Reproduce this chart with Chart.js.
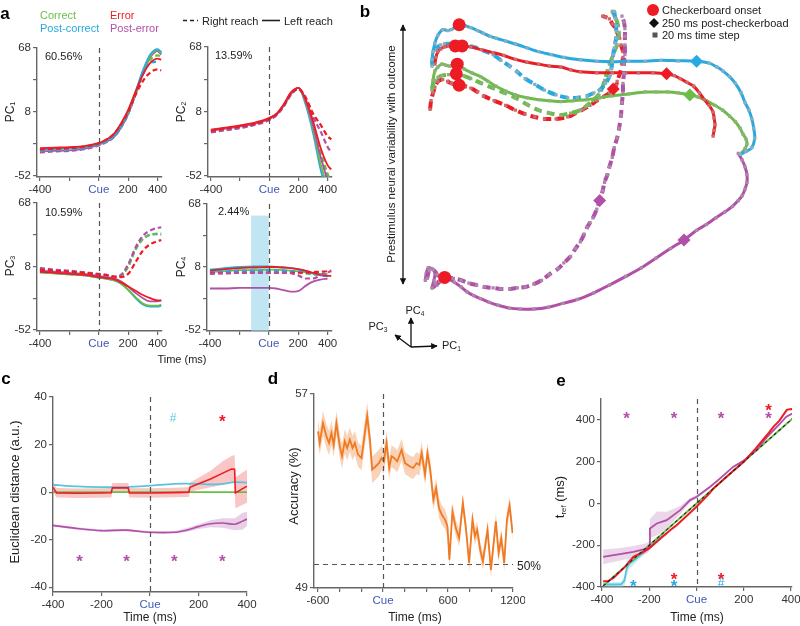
<!DOCTYPE html>
<html>
<head>
<meta charset="utf-8">
<script src="https://cdn.jsdelivr.net/npm/chart.js@4.4.0/dist/chart.umd.min.js"></script>
<style>
  body { margin: 0; background: #fff; font-family: "Liberation Sans", Arial, sans-serif; }
  #fig { position: relative; width: 800px; height: 626px; overflow: hidden; }
  .box { position: absolute; }
  .t { position: absolute; white-space: nowrap; color: #222; font-size: 11px; line-height: 1; }
  .c { transform: translate(-50%, -50%); }
  .l { transform: translate(0, -50%); }
  .r { transform: translate(-50%, -50%) rotate(-90deg); }
  .lbl { font-weight: bold; font-size: 17px; color: #000; }
  sub { font-size: 0.6em; vertical-align: -0.25em; }
</style>
</head>
<body>
<div id="fig">
  <div class="box" id="pc1"><canvas></canvas></div>
  <div class="box" id="pc2"><canvas></canvas></div>
  <div class="box" id="pc3"><canvas></canvas></div>
  <div class="box" id="pc4"><canvas></canvas></div>
  <div class="box" id="traj"><canvas></canvas></div>
  <div class="box" id="dist"><canvas></canvas></div>
  <div class="box" id="acc"><canvas></canvas></div>
  <div class="box" id="tref"><canvas></canvas></div>

  <svg width="800" height="626" style="position:absolute;left:0;top:0;pointer-events:none">
    <defs>
      <marker id="ah" viewBox="0 0 10 10" refX="9" refY="5" markerWidth="5" markerHeight="5" orient="auto-start-reverse">
        <path d="M0,0 L10,5 L0,10 z" fill="#111"/>
      </marker>
    </defs>
    <!-- a: reach legend -->
    <line x1="183" y1="20.5" x2="198" y2="20.5" stroke="#222" stroke-width="1.6" stroke-dasharray="4,3"/>
    <line x1="262" y1="20.5" x2="280" y2="20.5" stroke="#222" stroke-width="1.6"/>
    <!-- b: variability arrow -->
    <line x1="403" y1="25" x2="403" y2="284" stroke="#111" stroke-width="1.3" marker-start="url(#ah)" marker-end="url(#ah)"/>
    <!-- b: PC axes -->
    <line x1="411" y1="347" x2="437" y2="346" stroke="#111" stroke-width="1.3" marker-end="url(#ah)"/>
    <line x1="411" y1="347" x2="411" y2="318" stroke="#111" stroke-width="1.3" marker-end="url(#ah)"/>
    <line x1="411" y1="347" x2="395" y2="335" stroke="#111" stroke-width="1.3" marker-end="url(#ah)"/>
    <!-- b: legend icons -->
    <circle cx="653" cy="10" r="6" fill="#ed1c24"/>
    <polygon points="654,18 659,23 654,28 649,23" fill="#111"/>
    <rect x="652.5" y="32.5" width="5" height="5" fill="#555"/>
  </svg>
</div>

<script>
// ---------------- panel a : PC projections ----------------
const aTime = [-400, -300, -200, -100, 0, 50, 100, 150, 200, 250, 300, 350, 400, 425];
const aVariance = ['60.56%', '13.59%', '10.59%', '2.44%'];

const pc1CorrectL = [-27, -26.5, -26, -25, -22, -19, -15, -6, 7, 26, 45, 60, 66, 63];
const pc1CorrectR = [-28, -27.5, -27, -25.5, -22.5, -19.5, -15, -6, 7, 25, 44, 57, 61, 60];
const pc1PostCorL = [-27, -26.5, -26, -25, -22, -19, -15, -6, 8, 27, 47, 62, 67, 64];
const pc1PostCorR = [-28, -27.5, -27, -25.5, -22.5, -19.5, -15, -6, 7, 25, 43, 54, 55, null];
const pc1ErrorL = [-26, -25.5, -25, -24, -21, -18, -13, -3, 10, 27, 43, 54, 58, 57];
const pc1ErrorR = [-27, -26.5, -26, -24.5, -21.5, -18, -13, -4, 8, 24, 37, 45, 48, 47];
const pc1PostErrL = [-29, -28.5, -28, -26.5, -23, -20, -16, -7, 6, 25, 44, 59, 65, 64];
const pc1PostErrR = [-30, -29, -28.5, -27, -23.5, -20.5, -16, -7, 6, 25, 45, 60, 65, 62];

const pc2CorrectL = [-9.5, -7.5, -5.5, -3, 1.5, 5.5, 14, 25, 30, 16, -8, -40, -62, null];
const pc2CorrectR = [-11, -9, -7, -4, 0.5, 5, 13, 24, 29, 18, -3, -28, -50, -58];
const pc2PostCorL = [-9.5, -7.5, -5.5, -3, 1.5, 5.5, 14, 25, 30, 14, -12, -45, -70, null];
const pc2PostCorR = [-11, -9, -7, -4, 0.5, 5, 13, 24, 29, 17, -6, -32, -55, -62];
const pc2ErrorL = [-9, -7, -5, -2.5, 2, 6, 15, 26, 30, 19, -1, -25, -42, -46];
const pc2ErrorR = [-10, -8, -6, -3.5, 1, 5.5, 14, 25, 29, 21, 6, -4, -15, -18];
const pc2PostErrL = [-10, -8, -6, -3.5, 1, 5, 13.5, 24.5, 30, 17, -5, -33, -55, -60];
const pc2PostErrR = [-11.5, -9.5, -7.5, -4.5, 0, 4.5, 13, 24, 29, 20, 3, -10, -25, -30];

const pc3CorrectL = [2.5, 1.5, 0.5, -0.5, -2.5, -3.5, -5, -8, -14, -21, -27, -29, -29, -28];
const pc3CorrectR = [6, 4.5, 3.5, 2, 0.5, -0.5, -2, -1, 8, 24, 34, 38, 39, 39];
const pc3PostCorL = [2.5, 1.5, 0.5, -0.5, -2.5, -3.5, -5, -8, -14, -22, -28, -30, -30, -29];
const pc3PostCorR = [6, 4.5, 3.5, 2, 0.5, -0.5, -2, -1, 8, 24, 34, 38, 38.5, 38];
const pc3ErrorL = [3, 2, 1, 0, -2, -3, -4, -7, -11, -15, -19, -22, -24, -24];
const pc3ErrorR = [5, 4, 3, 2, 0.5, 0, -1.5, -2, 1, 12, 23, 29, 32, 33];
const pc3PostErrL = [4, 3, 2, 1, -1, -2, -3, -6, -11, -17, -22, -25, -25, -24];
const pc3PostErrR = [6.5, 5, 4, 2.5, 1, 0, -1.5, 0, 10, 26, 37, 42, 44.5, 45];

const pc4CorrectL = [3, 4, 5, 5, 5.5, 5.5, 5, 4.5, 4, 3, 2, 1.5, 1.5, null];
const pc4CorrectR = [2.5, 3, 3.5, 3.5, 3.5, 3.5, 3.5, 3, 3, 2, 1, 0.5, 0, null];
const pc4PostCorL = [5.5, 7, 8, 8.5, 8.5, 8, 7.5, 7, 6, 4, 2, 0, -1, null];
const pc4PostCorR = [3, 4, 4.5, 4.5, 5, 5, 4.5, 4, 3.5, 2.5, 1.5, 0.5, 0, null];
const pc4ErrorL = [4.5, 6, 7, 7.5, 8, 8, 7.5, 7, 6, 4.5, 2.5, 0.5, -0.5, -0.5];
const pc4ErrorR = [2, 2, 2.5, 2.5, 2.5, 2.5, 2.5, 2.5, 2.5, 2.5, 3, 3.5, 4, 4.5];
const pc4PostErrL = [-12.5, -12.5, -12, -12, -12, -12.5, -14, -15.5, -15, -10, -6, -4, -3, null];
const pc4PostErrR = [1.5, 2, 2.5, 2.5, 2.5, 2.5, 2.5, 2, 0, -3, -3, 0, 3, 4];
const pc4Window = [-120, 0, 57]; // from, to (ms), top (a.u.)

// ---------------- panel b : trajectories ----------------
const bPostCorL = [[427,62],[427,55],[428,47],[430,38],[433,30],[438,24],[443,25],[447,24],[452,20],[455,19],[461,20],[467,22],[474,25],[480,28],[487,31],[493,33],[503,36],[513,39],[525,43],[537,47],[550,50],[563,53],[580,55.5],[597,57],[613,57.5],[630,57],[647,57],[663,56],[681,56.5],[700,57],[713,59],[721,63],[727,67],[734,73],[740,80],[746,90],[750,100],[754,108],[757,117],[759,127],[760,137],[757,147],[751,151],[745,154]];
const bPostCorR = [[427,60],[430,45],[436,40],[440,39],[447,39],[453,41],[461,41],[470,42],[480,46],[490,50],[498,56],[507,62],[515,68],[523,75],[533,81],[543,87],[555,92],[567,95],[577,95],[587,93],[594,90],[600,87],[606,80],[610,73],[612,65],[613,58],[614,50],[615,43],[616,38],[617,33],[617,26],[617,20],[616,12],[615,5]];
const bErrorL = [[430,60],[431,53],[433,47],[436,44],[440,42],[444,41],[447,40],[451,41],[458,41],[467,42],[478,45],[490,48],[501,51],[513,55],[525,58],[537,60],[548,62],[560,63],[570,66],[580,68],[597,69],[613,69],[627,69],[640,69],[655,69],[669,70],[677,72],[683,75],[690,79],[697,83],[703,90],[708,97],[713,103],[717,110],[718,116],[719,123],[718,129],[717,135]];
const bErrorR = [[425,107],[426,98],[428,90],[430,84],[433,78],[438,76],[443,78],[447,80],[455,82],[461,83],[467,85],[474,89],[480,93],[491,98],[503,103],[513,108],[523,112],[533,115],[543,117],[555,117],[567,115],[575,111],[583,107],[590,103],[597,98],[604,94],[610,90],[614,86],[617,82],[618,78],[621,69],[623,60],[624,53],[624,47],[622,40],[620,32],[618,27],[617,23],[613,18],[610,13],[606,11],[603,10]];
const bCorrectL = [[427,87],[428,77],[430,67],[433,63],[437,60],[441,61],[445,62],[453,60],[460,65],[468,69],[477,73],[485,78],[493,83],[503,88],[513,92],[525,95],[537,97],[548,98],[560,99],[573,98],[587,97],[600,95],[613,93],[630,91],[647,89],[658,89],[670,89],[681,90],[693,92],[701,94],[710,98],[719,103],[727,108],[734,114],[740,120],[745,127],[748,133],[751,138],[752,143],[750,148],[747,152]];
const bCorrectR = [[427,85],[428,81],[430,77],[433,74],[437,72],[444,71],[452,70],[459,72],[467,75],[478,80],[490,85],[502,90],[513,95],[525,102],[537,108],[548,111],[560,113],[570,111],[580,108],[587,103],[593,98],[598,93],[602,87],[605,77],[608,67],[610,60],[613,53],[615,47],[618,40],[619,33],[620,27],[619,20],[617,13],[615,9],[613,5]];
const bPostErrL = [[420,285],[421,278],[423,272],[427,273],[430,277],[429,285],[427,293],[432,290],[436,286],[440,282],[450,287],[457,292],[463,297],[470,301],[477,304],[486,308],[495,311],[507,314],[518,315],[532,315],[547,313],[562,309],[577,305],[594,298],[610,290],[627,281],[643,272],[658,262],[673,252],[687,243],[700,233],[710,227],[720,220],[729,214],[737,208],[743,202],[747,197],[750,190],[752,183],[752,175],[750,167],[747,160],[743,153]];
const bPostErrR = [[422,283],[424,275],[428,274],[432,279],[430,288],[435,286],[440,282],[449,283],[457,285],[465,288],[473,290],[481,292],[490,293],[498,294],[507,294],[515,293],[523,292],[532,289],[540,285],[548,279],[557,273],[563,267],[570,260],[575,252],[580,245],[584,237],[587,230],[590,225],[593,220],[597,211],[600,202],[603,192],[605,183],[608,175],[610,167],[613,157],[615,147],[618,137],[620,127],[622,113],[623,100],[624,90],[624,80],[625,70],[625,60],[626,50],[626,40],[626,31],[626,23],[625,16],[623,10]];
const bOnset = [[455,19],[451,41],[458,41],[453,60],[452,70],[455,82],[440,282]];
const bDiamondBlue = [[700,57]];
const bDiamondRed = [[669,70],[614,86]];
const bDiamondGreen = [[693,92]];
const bDiamondMagenta = [[600,202],[687,243]];

// ---------------- panel c : euclidean distance ----------------
const cBlueX = [-400, -300, -200, -100, 0, 100, 200, 250, 300, 350, 400];
const cBlue = [3.1, 2.4, 2.1, 2.1, 2.7, 3.5, 3.5, 3.2, 3.5, 4.2, 4];
const cGreenX = [-400, 400];
const cGreen = [0, 0];
const cRedX = [-400, -385, -300, -200, -160, -155, -90, -85, 0, 100, 160, 165, 200, 250, 300, 336, 349, 352, 400];
const cRed = [2, -0.3, -0.5, -0.4, -0.3, 1.8, 1.8, -0.3, -0.4, -0.2, 0, 2, 3.5, 5.5, 8, 9.7, 9.6, -0.3, 2.5];
const cRedErr = [2, 2, 2, 2, 2, 2, 2, 2, 2, 2, 2, 2, 2.5, 3.5, 5, 5.5, 6, 6.5, 7];
const cMagentaX = [-400, -300, -200, -100, 0, 100, 150, 200, 250, 300, 350, 380, 400];
const cMagenta = [-14, -15.3, -16.2, -16, -16.9, -16.9, -16, -14.5, -13.3, -13, -13.5, -12.3, -11.3];
const cMagentaErr = [0.5, 0.5, 0.5, 0.5, 0.5, 0.5, 0.8, 1, 1.5, 2, 2.5, 3.5, 3];
const cStarLowX = [-290, -97, 100, 298];
const cStarLowY = -28;
const cHashX = [95];
const cRedStarX = [298];
const cTopY = 31;

// ---------------- panel d : decoding accuracy ----------------
const accX = [-600,-584,-554,-522,-498,-476,-455,-430,-399,-378,-353,-331,-306,-281,-260,-230,-198,-168,-146,-121,-100,-69,-38,-13,8,33,57,79,103,131,172,203,249,279,310,335,357,388,410,434,465,490,517,543,573,595,613,641,672,703,737,767,795,826,848,869,897,922,965,996,1042,1067,1092,1119,1144,1169,1196];
const accY = [55.46,54.98,55.8,55.25,54.98,55.39,54.9,55.8,54.84,54.43,55.05,54.77,55.12,54.77,54.98,54.5,54.36,55.39,56.1,55.12,53.88,54.01,54.15,54.36,54.22,54.98,53.95,54.43,54.36,54.22,54.7,54.15,54.01,53.95,54.15,54.08,54.57,53.67,54.57,53.95,52.64,53.12,52.3,52.02,51.82,51.54,50.17,52.16,51.47,51.06,52.51,51.4,50.03,51.82,51.13,51.4,50.58,50.1,51.4,49.75,51.75,50.44,51.06,50.03,51.82,52.4,51.27];
const accSem = [0.5,0.5,0.5,0.5,0.5,0.5,0.5,0.5,0.5,0.5,0.5,0.5,0.5,0.5,0.5,0.5,0.5,0.55,0.55,0.55,0.55,0.55,0.55,0.5,0.5,0.5,0.45,0.45,0.45,0.45,0.45,0.45,0.45,0.45,0.45,0.45,0.45,0.4,0.4,0.4,0.4,0.4,0.4,0.4,0.4,0.4,0.35,0.35,0.35,0.35,0.35,0.35,0.35,0.35,0.35,0.35,0.35,0.35,0.35,0.35,0.35,0.35,0.35,0.35,0.35,0.35,0.35];
const accChance = 50;

// ---------------- panel e : t_ref ----------------
const eDiagX = [-395, 408];
const eDiag = [-395, 408];
const eRedX = [-395,-375,-350,-300,-267,-230,-200,-150,-100,-84,-50,0,50,72,100,150,200,250,300,326,350,382,400,408];
const eRed = [-373,-373,-355,-300,-256,-235,-215,-165,-118,-104,-68,-16,42,72,100,150,200,262,330,368,395,448,452,450];
const eMagentaX = [-395,-324,-267,-211,-200,-197,-168,-126,-69,-27,1,58,100,156,200,250,300,350,380,408];
const eMagenta = [-256,-243,-232,-216,-205,-120,-96,-80,-32,16,32,80,120,176,205,252,320,378,415,432];
const eMagentaErr = [35,30,28,25,25,45,58,40,20,10,8,5,5,5,5,5,5,5,5,5];
const eCyanX = [-395,-320,-305,-295,-285,-250,-200,-150,-126];
const eCyan = [-388,-388,-370,-310,-290,-260,-210,-162,-144];
const eCyanErr = [10,12,25,40,25,15,12,10,8];
const eMagStarX = [-296, -95, 104, 305];
const eMagStarY = 420;
const eRedStarTop = [[305, 461]];
const eRedStarLow = [-95, 104];
const eRedStarLowY = -349;
const eCyanStarLow = [-267, -95];
const eCyanHashX = [104];
const eCyanLowY = -384;

// ---------------- styling ----------------
const GREEN = '#6cbd45', BLUE = '#27aae1', RED = '#ed1c24', MAGENTA = '#b24fa8';
const LBLUE = '#5cc4da', ORANGE = '#f07a22', CUE = '#4058b8';
const AX = '#666', TXT = '#333';
const FONT = '"Liberation Sans", Arial, sans-serif';

Chart.defaults.font.family = FONT;
Chart.defaults.font.size = 11;
Chart.defaults.color = TXT;

const zip = (xs, ys) => xs.map((x, i) => ({ x, y: ys[i] }));
const pairs = arr => arr.map(p => ({ x: p[0], y: p[1] }));

// draws cue lines, shaded windows and significance marks through the chart scales
const deco = {
  id: 'deco',
  beforeDatasetsDraw(chart, args, o) {
    const { ctx, chartArea: a, scales: { x, y } } = chart;
    (o.boxes || []).forEach(b => {
      const x0 = x.getPixelForValue(b[0]), x1 = x.getPixelForValue(b[1]);
      const y0 = y.getPixelForValue(b[2]);
      ctx.save();
      ctx.fillStyle = 'rgba(150,212,235,0.6)';
      ctx.fillRect(x0, y0, x1 - x0, a.bottom - y0);
      ctx.restore();
    });
  },
  afterDatasetsDraw(chart, args, o) {
    const { ctx, chartArea: a, scales: { x, y } } = chart;
    ctx.save();
    ctx.strokeStyle = '#555';
    ctx.lineWidth = 1.2;
    ctx.setLineDash([5, 4]);
    (o.vlines || []).forEach(v => {
      const px = Math.round(x.getPixelForValue(v)) + 0.5;
      ctx.beginPath(); ctx.moveTo(px, a.top); ctx.lineTo(px, a.bottom); ctx.stroke();
    });
    (o.hlines || []).forEach(v => {
      const py = Math.round(y.getPixelForValue(v)) + 0.5;
      ctx.beginPath(); ctx.moveTo(a.left, py); ctx.lineTo(a.right, py); ctx.stroke();
    });
    ctx.setLineDash([]);
    ctx.textAlign = 'center';
    ctx.textBaseline = 'middle';
    (o.marks || []).forEach(m => {
      ctx.fillStyle = m.color;
      ctx.font = (m.text === '*' ? 'bold 17px ' : '12px ') + FONT;
      const dy = m.text === '*' ? 4 : 0;
      m.pts.forEach(p => ctx.fillText(m.text, x.getPixelForValue(p[0]), y.getPixelForValue(p[1]) + dy));
    });
    ctx.restore();
  }
};
Chart.register(deco);

function zeroPad(s) { s.paddingLeft = s.paddingRight = s.paddingTop = s.paddingBottom = 0; }

function axis(horizontal, size, min, max, ticks, labels) {
  return {
    type: 'linear', min, max,
    afterBuildTicks: s => { s.ticks = ticks.map(v => ({ value: v })); },
    afterFit: s => { if (horizontal) s.height = size; else s.width = size; zeroPad(s); },
    ticks: {
      autoSkip: false, maxRotation: 0, padding: 2,
      callback: (v, i) => labels[i],
      color: c => (labels[c.index] === 'Cue' ? CUE : TXT),
      font: { size: 11.5 },
    },
    grid: { drawOnChartArea: false, tickLength: 4, color: AX, lineWidth: 1.2 },
    border: { color: AX, width: 1.4 },
  };
}

function panel(id, area, cfg) {
  const yW = cfg.yW || 0, xH = cfg.xH || 0, p = cfg.pad || 0;
  const box = document.getElementById(id);
  Object.assign(box.style, {
    left: (area[0] - yW - p) + 'px', top: (area[1] - p) + 'px',
    width: (area[2] - area[0] + yW + 2 * p) + 'px',
    height: (area[3] - area[1] + xH + 2 * p) + 'px',
  });
  return new Chart(box.querySelector('canvas'), {
    type: cfg.type || 'line',
    data: { datasets: cfg.datasets },
    options: {
      responsive: true, maintainAspectRatio: false, animation: false,
      layout: { padding: p },
      scales: cfg.scales,
      plugins: { legend: { display: false }, tooltip: { enabled: false }, deco: cfg.deco || {} },
      elements: { point: { radius: 0 } },
    },
  });
}

function line(data, color, opt) {
  return Object.assign({ data, borderColor: color, backgroundColor: color, borderWidth: 1.8, pointRadius: 0, fill: false, tension: 0 }, opt || {});
}
function band(xs, ys, err, color) {
  return [
    line(zip(xs, ys.map((v, i) => v + err[i])), 'transparent', { backgroundColor: color, borderWidth: 0, fill: '+1' }),
    line(zip(xs, ys.map((v, i) => v - err[i])), 'transparent', { borderWidth: 0 }),
  ];
}

// ---------------- panel a ----------------
const aXTicks = [-400, -200, 0, 200, 400];
const aXLabels = ['-400', '', 'Cue', '200', '400'];
const aYTicks = [-52, -22, 8, 38, 68];
const aYLabels = ['-52', '', '8', '', '68'];

function pcSets(rows) {
  return rows.map(([ys, c, dashed]) => line(zip(aTime, ys), c, {
    borderDash: dashed ? [5, 3] : [], borderWidth: dashed ? 2.2 : 1.8, cubicInterpolationMode: 'monotone'
  }));
}
function pcPanel(id, area, rows, extra) {
  return panel(id, area, {
    yW: 24, xH: 18, pad: 8,
    scales: {
      x: axis(true, 18, -420, 430, aXTicks, aXLabels),
      y: axis(false, 24, -53, 68, aYTicks, aYLabels),
    },
    datasets: pcSets(rows),
    deco: Object.assign({ vlines: [0] }, extra || {}),
  });
}

pcPanel('pc1', [37, 48, 162, 177], [
  [pc1ErrorL, RED], [pc1ErrorR, RED, 1], [pc1PostCorL, BLUE], [pc1PostCorR, BLUE, 1],
  [pc1CorrectL, GREEN], [pc1CorrectR, GREEN, 1], [pc1PostErrL, MAGENTA], [pc1PostErrR, MAGENTA, 1]]);
pcPanel('pc2', [208, 47, 332, 177], [
  [pc2ErrorL, RED], [pc2ErrorR, RED, 1], [pc2PostErrL, MAGENTA], [pc2PostErrR, MAGENTA, 1],
  [pc2CorrectL, GREEN], [pc2CorrectR, GREEN, 1], [pc2PostCorL, BLUE], [pc2PostCorR, BLUE, 1]]);
pcPanel('pc3', [37, 203, 162, 331], [
  [pc3ErrorL, RED], [pc3ErrorR, RED, 1], [pc3PostErrL, MAGENTA], [pc3PostErrR, MAGENTA, 1],
  [pc3CorrectL, GREEN], [pc3CorrectR, GREEN, 1], [pc3PostCorL, BLUE], [pc3PostCorR, BLUE, 1]]);
pcPanel('pc4', [207, 204, 332, 331], [
  [pc4PostErrL, MAGENTA], [pc4PostErrR, MAGENTA, 1], [pc4ErrorL, RED], [pc4ErrorR, RED, 1],
  [pc4PostCorL, BLUE], [pc4PostCorR, BLUE, 1], [pc4CorrectL, GREEN], [pc4CorrectR, GREEN, 1]],
  { boxes: [pc4Window] });

// ---------------- panel b ----------------
function traj(arr, color, mark, dashed) {
  return {
    data: pairs(arr), showLine: true, borderColor: color, borderWidth: dashed ? 4 : 3,
    borderDash: dashed ? [8, 5] : [], tension: 0.3,
    pointStyle: 'rect', pointRadius: 2.3, pointBackgroundColor: mark, pointBorderColor: mark, pointBorderWidth: 0,
  };
}
function marker(arr, style, color, r) {
  return { data: pairs(arr), showLine: false, pointStyle: style, pointRadius: r, pointBackgroundColor: color, pointBorderColor: color, pointBorderWidth: 0 };
}
panel('traj', [380, 0, 800, 330], {
  type: 'scatter',
  scales: {
    x: { type: 'linear', min: 380, max: 800, display: false },
    y: { type: 'linear', min: 0, max: 330, reverse: true, display: false },
  },
  datasets: [
    marker(bOnset, 'circle', RED, 6.5),
    marker(bDiamondBlue, 'rectRot', BLUE, 6.5),
    marker(bDiamondRed, 'rectRot', RED, 6.5),
    marker(bDiamondGreen, 'rectRot', GREEN, 6.5),
    marker(bDiamondMagenta, 'rectRot', MAGENTA, 6.5),
    traj(bPostCorL, BLUE, '#8aaebd'),
    traj(bPostErrR, MAGENTA, '#aa88a8', true),
    traj(bErrorL, RED, '#c86c70'),
    traj(bCorrectL, GREEN, '#8fae82'),
    traj(bPostErrL, MAGENTA, '#aa88a8'),
    traj(bPostCorR, BLUE, '#8aaebd', true),
    traj(bCorrectR, GREEN, '#8fae82', true),
    traj(bErrorR, RED, '#c86c70', true),
  ],
});

// ---------------- panel c ----------------
panel('dist', [53, 397, 247, 592], {
  yW: 30, xH: 20, pad: 12,
  scales: {
    x: axis(true, 20, -400, 400, [-400, -200, 0, 200, 400], ['-400', '-200', 'Cue', '200', '400']),
    y: axis(false, 30, -42, 40, [-40, -20, 0, 20, 40], ['-40', '-20', '0', '20', '40']),
  },
  datasets: [
    line(zip(cRedX, cRed), RED, { borderWidth: 1.6 }),
    line(zip(cBlueX, cBlue), LBLUE, { borderWidth: 1.8, tension: 0.3 }),
    line(zip(cGreenX, cGreen), GREEN, { borderWidth: 1.6 }),
    line(zip(cMagentaX, cMagenta), MAGENTA, { borderWidth: 1.6, tension: 0.3 }),
    ...band(cRedX, cRed, cRedErr, 'rgba(244,150,150,0.55)'),
    ...band(cMagentaX, cMagenta, cMagentaErr, 'rgba(190,120,185,0.35)'),
  ],
  deco: {
    vlines: [0],
    marks: [
      { text: '*', color: MAGENTA, pts: cStarLowX.map(v => [v, cStarLowY]) },
      { text: '#', color: LBLUE, pts: cHashX.map(v => [v, cTopY]) },
      { text: '*', color: RED, pts: cRedStarX.map(v => [v, cTopY]) },
    ],
  },
});

// ---------------- panel d ----------------
panel('acc', [314, 394, 513, 588], {
  yW: 30, xH: 20, pad: 12,
  scales: {
    x: axis(true, 20, -637, 1200, [-600, -400, -200, 0, 200, 400, 600, 800, 1000, 1200],
      ['-600', '', '', 'Cue', '', '', '600', '', '', '1200']),
    y: axis(false, 30, 49, 57, [49, 57], ['49', '57']),
  },
  datasets: [
    line(zip(accX, accY), ORANGE, { borderWidth: 1.8 }),
    ...band(accX, accY, accSem, 'rgba(246,180,135,0.6)'),
  ],
  deco: { vlines: [0], hlines: [accChance] },
});

// ---------------- panel e ----------------
panel('tref', [601, 399, 792, 587], {
  yW: 30, xH: 20, pad: 12,
  scales: {
    x: axis(true, 20, -404, 404, [-400, -200, 0, 200, 400], ['-400', '-200', 'Cue', '200', '400']),
    y: axis(false, 30, -400, 500, [-400, -200, 0, 200, 400], ['-400', '-200', '0', '200', '400']),
  },
  datasets: [
    line(zip(eDiagX, eDiag), '#222', { borderWidth: 1.1, borderDash: [3, 3] }),
    line(zip(eRedX, eRed), RED, { borderWidth: 2 }),
    line(zip(eMagentaX, eMagenta), MAGENTA, { borderWidth: 1.8 }),
    line(zip(eDiagX, eDiag), GREEN, { borderWidth: 1.8 }),
    line(zip(eCyanX, eCyan), LBLUE, { borderWidth: 1.8 }),
    ...band(eMagentaX, eMagenta, eMagentaErr, 'rgba(190,120,185,0.3)'),
    ...band(eCyanX, eCyan, eCyanErr, 'rgba(140,215,235,0.45)'),
  ],
  deco: {
    vlines: [0],
    marks: [
      { text: '*', color: MAGENTA, pts: eMagStarX.map(v => [v, eMagStarY]) },
      { text: '*', color: RED, pts: eRedStarTop },
      { text: '*', color: RED, pts: eRedStarLow.map(v => [v, eRedStarLowY]) },
      { text: '*', color: BLUE, pts: eCyanStarLow.map(v => [v, eCyanLowY]) },
      { text: '#', color: BLUE, pts: eCyanHashX.map(v => [v, eCyanLowY]) },
    ],
  },
});

// ---------------- text ----------------
const fig = document.getElementById('fig');
function txt(html, x, y, cls, style) {
  const d = document.createElement('div');
  d.className = 't ' + cls;
  d.innerHTML = html;
  d.style.left = x + 'px';
  d.style.top = y + 'px';
  if (style) d.style.cssText += style;
  fig.appendChild(d);
}
txt('a', 5, 13, 'c lbl');
txt('b', 365, 11, 'c lbl');
txt('c', 6, 378, 'c lbl');
txt('d', 273, 378, 'c lbl');
txt('e', 561, 380, 'c lbl');

txt('Correct', 40, 15, 'l', 'color:' + GREEN);
txt('Post-correct', 40, 28, 'l', 'color:' + BLUE);
txt('Error', 110, 15, 'l', 'color:' + RED);
txt('Post-error', 110, 28, 'l', 'color:' + MAGENTA);
txt('Right reach', 202, 21, 'l');
txt('Left reach', 284, 21, 'l');

txt(aVariance[0], 45, 56, 'l');
txt(aVariance[1], 215, 55, 'l');
txt(aVariance[2], 45, 212, 'l');
txt(aVariance[3], 218, 211, 'l');
txt('PC<sub>1</sub>', 10, 112, 'r', 'font-size:12px');
txt('PC<sub>2</sub>', 181, 112, 'r', 'font-size:12px');
txt('PC<sub>3</sub>', 10, 266, 'r', 'font-size:12px');
txt('PC<sub>4</sub>', 181, 267, 'r', 'font-size:12px');
txt('Time (ms)', 182, 359, 'c');

txt('Prestimulus neural variability with outcome', 392, 154, 'r', 'font-size:11.5px');
txt('Checkerboard onset', 662, 10, 'l');
txt('250 ms post-checkerboad', 662, 23, 'l');
txt('20 ms time step', 662, 35, 'l');
txt('PC<sub>4</sub>', 415, 311, 'c');
txt('PC<sub>1</sub>', 442, 346, 'l');
txt('PC<sub>3</sub>', 378, 327, 'c');

txt('Euclidean distance (a.u.)', 14, 492, 'r', 'font-size:13px');
txt('Time (ms)', 150, 617, 'c', 'font-size:12px');
txt('Accuracy (%)', 293, 486, 'r', 'font-size:13px');
txt('Time (ms)', 415, 617, 'c', 'font-size:12px');
txt('50%', 517, 566, 'l', 'font-size:12px');
txt('t<sub>ref</sub> (ms)', 560, 497, 'r', 'font-size:13px');
txt('Time (ms)', 697, 617, 'c', 'font-size:12px');
</script>
</body>
</html>
